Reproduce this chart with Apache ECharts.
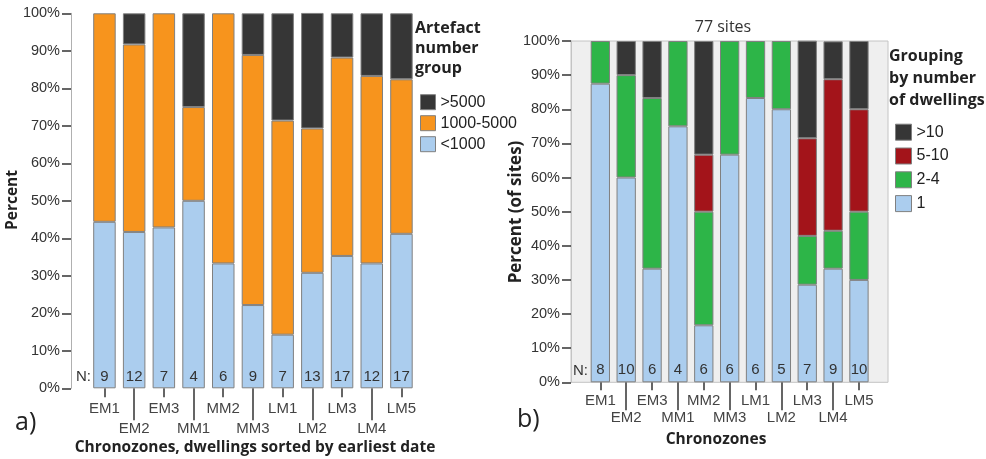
<!DOCTYPE html>
<html>
<head>
<meta charset="utf-8">
<script src="https://cdn.jsdelivr.net/npm/echarts@6/dist/echarts.min.js"></script>
<style>
html,body{margin:0;padding:0;background:#fff;}
#chart{width:986px;height:459px;}
</style>
</head>
<body>
<div id="chart"></div>
<script>
// ---- Data ----
const categories = ['EM1','EM2','EM3','MM1','MM2','MM3','LM1','LM2','LM3','LM4','LM5'];
const yTicks = [0,10,20,30,40,50,60,70,80,90,100];

// a) Artefact number group (percent of dwellings)
const nA = [9,12,7,4,6,9,7,13,17,12,17];
const artLow  = [44.4,41.7,42.9,50,33.3,22.2,14.3,30.8,35.3,33.3,41.2];   // <1000
const artMid  = [55.6,50,57.1,25,66.7,66.7,57.1,38.5,52.9,50,41.2];       // 1000-5000
const artHigh = [0,8.3,0,25,0,11.1,28.6,30.8,11.8,16.7,17.6];             // >5000
const legendA = ['>5000','1000-5000','<1000'];

// b) Grouping by number of dwellings (percent of sites)
const nB = [8,10,6,4,6,6,6,5,7,9,10];
const grp1   = [87.5,60,33.3,75,16.7,66.7,83.3,80,28.6,33.3,30];   // 1
const grp24  = [12.5,30,50,25,33.3,33.3,16.7,20,14.3,11.1,20];     // 2-4
const grp510 = [0,0,0,0,16.7,0,0,0,28.6,44.4,30];                  // 5-10
const grp10  = [0,10,16.7,0,33.3,0,0,0,28.6,11.1,20];              // >10
const legendB = ['>10','5-10','2-4','1'];

// ---- Styles ----
const C_BLACK = '#363636', C_ORANGE = '#f7941d', C_BLUE = '#abcdee', C_GREEN = '#2db548', C_RED = '#a3141a';
const SANS = 'Liberation Sans';
const nz = a => a.map(v => v === 0 ? null : v);

const chart = echarts.init(document.getElementById('chart'));

function valueAxis(grid, show, lineColor) {
  return {
    type: 'value', gridIndex: grid, min: yTicks[0], max: yTicks[yTicks.length - 1], interval: yTicks[1] - yTicks[0], show: show,
    axisLine: {show: true, lineStyle: {color: lineColor, width: 1}},
    axisTick: {show: true, length: 9, lineStyle: {color: '#333', width: 1.5}},
    axisLabel: {formatter: '{value}%', fontSize: 14.5, color: '#333', fontFamily: SANS, margin: 11},
    splitLine: {show: false}
  };
}
function catAxis(grid, odd, tickLen, margin) {
  const f = i => (i % 2 === 1) === odd;
  return {
    type: 'category', gridIndex: grid, data: categories, position: 'bottom',
    axisLine: {show: false},
    axisTick: {show: true, alignWithLabel: true, interval: f, length: tickLen, lineStyle: {color: '#333', width: 1.5}},
    axisLabel: {interval: f, margin: margin, fontSize: 15, color: '#444', fontFamily: SANS}
  };
}
const barBorder = {borderColor: '#808080', borderWidth: 1};
function bar(name, data, color, xi, yi, stack, width, labelN, dist) {
  const s = {
    name: name, type: 'bar', stack: stack, xAxisIndex: xi, yAxisIndex: yi,
    data: nz(data), barWidth: width,
    itemStyle: Object.assign({color: color}, barBorder)
  };
  if (labelN) {
    s.label = {show: true, position: 'insideBottom', distance: dist,
      formatter: p => String(labelN[p.dataIndex]), fontSize: 15, color: '#333', fontFamily: SANS};
  }
  return s;
}

const option = {
  animation: false,
  title: {text: '77 sites', left: 718, top: 14, textAlign: 'center',
    textStyle: {fontSize: 16, fontWeight: 'normal', color: '#333', fontFamily: 'Open Sans'}},
  grid: [
    {left: 71, top: 13.3, width: 364, height: 375, show: false},
    {left: 89.6, top: 13.3, width: 326.7, height: 375},
    {left: 571, top: 41, width: 317, height: 341.3, show: true, backgroundColor: '#efefef', borderColor: '#c4c4c4', borderWidth: 1},
    {left: 587.4, top: 41, width: 284.5, height: 341.3}
  ],
  xAxis: [
    {type: 'value', gridIndex: 0, show: false, min: 0, max: 1},
    catAxis(1, false, 9, 13),
    catAxis(1, true, 32, 33),
    {type: 'value', gridIndex: 2, show: false, min: 0, max: 1},
    catAxis(3, false, 8, 11),
    catAxis(3, true, 28, 28)
  ],
  yAxis: [
    valueAxis(0, true, '#b0b0b0'),
    valueAxis(1, false, '#fff'),
    valueAxis(2, true, '#c4c4c4'),
    valueAxis(3, false, '#fff')
  ],
  legend: [
    {data: legendA, orient: 'vertical', left: 415, top: 89.2, itemWidth: 15, itemHeight: 15, itemGap: 5,
      icon: 'rect', itemStyle: {borderColor: '#808080', borderWidth: 1},
      textStyle: {fontSize: 16, color: '#222', fontFamily: SANS}},
    {data: legendB, orient: 'vertical', left: 890, top: 118.7, itemWidth: 16, itemHeight: 16, itemGap: 6.8,
      icon: 'rect', itemStyle: {borderColor: '#808080', borderWidth: 1},
      textStyle: {fontSize: 16, color: '#222', fontFamily: SANS}}
  ],
  series: [
    bar('<1000', artLow, C_BLUE, 1, 1, 'a', 22.5, nA, 4),
    bar('1000-5000', artMid, C_ORANGE, 1, 1, 'a', 22.5),
    bar('>5000', artHigh, C_BLACK, 1, 1, 'a', 22.5),
    bar('1', grp1, C_BLUE, 4, 3, 'b', 19.3, nB, 5),
    bar('2-4', grp24, C_GREEN, 4, 3, 'b', 19.3),
    bar('5-10', grp510, C_RED, 4, 3, 'b', 19.3),
    bar('>10', grp10, C_BLACK, 4, 3, 'b', 19.3)
  ],
  graphic: [
    {type: 'text', left: 415, top: 18, style: {text: 'Artefact\nnumber\ngroup', font: 'bold 16px Open Sans', lineHeight: 20, fill: '#222'}},
    {type: 'text', left: 889, top: 45.5, style: {text: 'Grouping\nby number\nof dwellings', font: 'bold 16px Open Sans', lineHeight: 22, fill: '#222'}},
    {type: 'text', x: 76, y: 376.7, style: {text: 'N:', font: '15px Liberation Sans', fill: '#333', textVerticalAlign: 'middle'}},
    {type: 'text', x: 573, y: 370.5, style: {text: 'N:', font: '15px Liberation Sans', fill: '#333', textVerticalAlign: 'middle'}},
    {type: 'text', x: 255, y: 448, style: {text: 'Chronozones, dwellings sorted by earliest date', font: 'bold 15.5px Open Sans', fill: '#222', textAlign: 'center', textVerticalAlign: 'middle'}},
    {type: 'text', x: 716, y: 440, style: {text: 'Chronozones', font: 'bold 15.5px Open Sans', fill: '#222', textAlign: 'center', textVerticalAlign: 'middle'}},
    {type: 'text', x: 13, y: 200, rotation: Math.PI / 2, style: {text: 'Percent', font: 'bold 15.5px Open Sans', fill: '#222', textAlign: 'center', textVerticalAlign: 'middle'}},
    {type: 'text', x: 516, y: 212, rotation: Math.PI / 2, style: {text: 'Percent (of sites)', font: 'bold 17px Open Sans', fill: '#222', textAlign: 'center', textVerticalAlign: 'middle'}},
    {type: 'text', x: 15, y: 423, style: {text: 'a)', font: '25px Open Sans', fill: '#222', textVerticalAlign: 'middle'}},
    {type: 'text', x: 517, y: 420, style: {text: 'b)', font: '25px Open Sans', fill: '#222', textVerticalAlign: 'middle'}}
  ]
};
chart.setOption(option);
</script>
</body>
</html>
